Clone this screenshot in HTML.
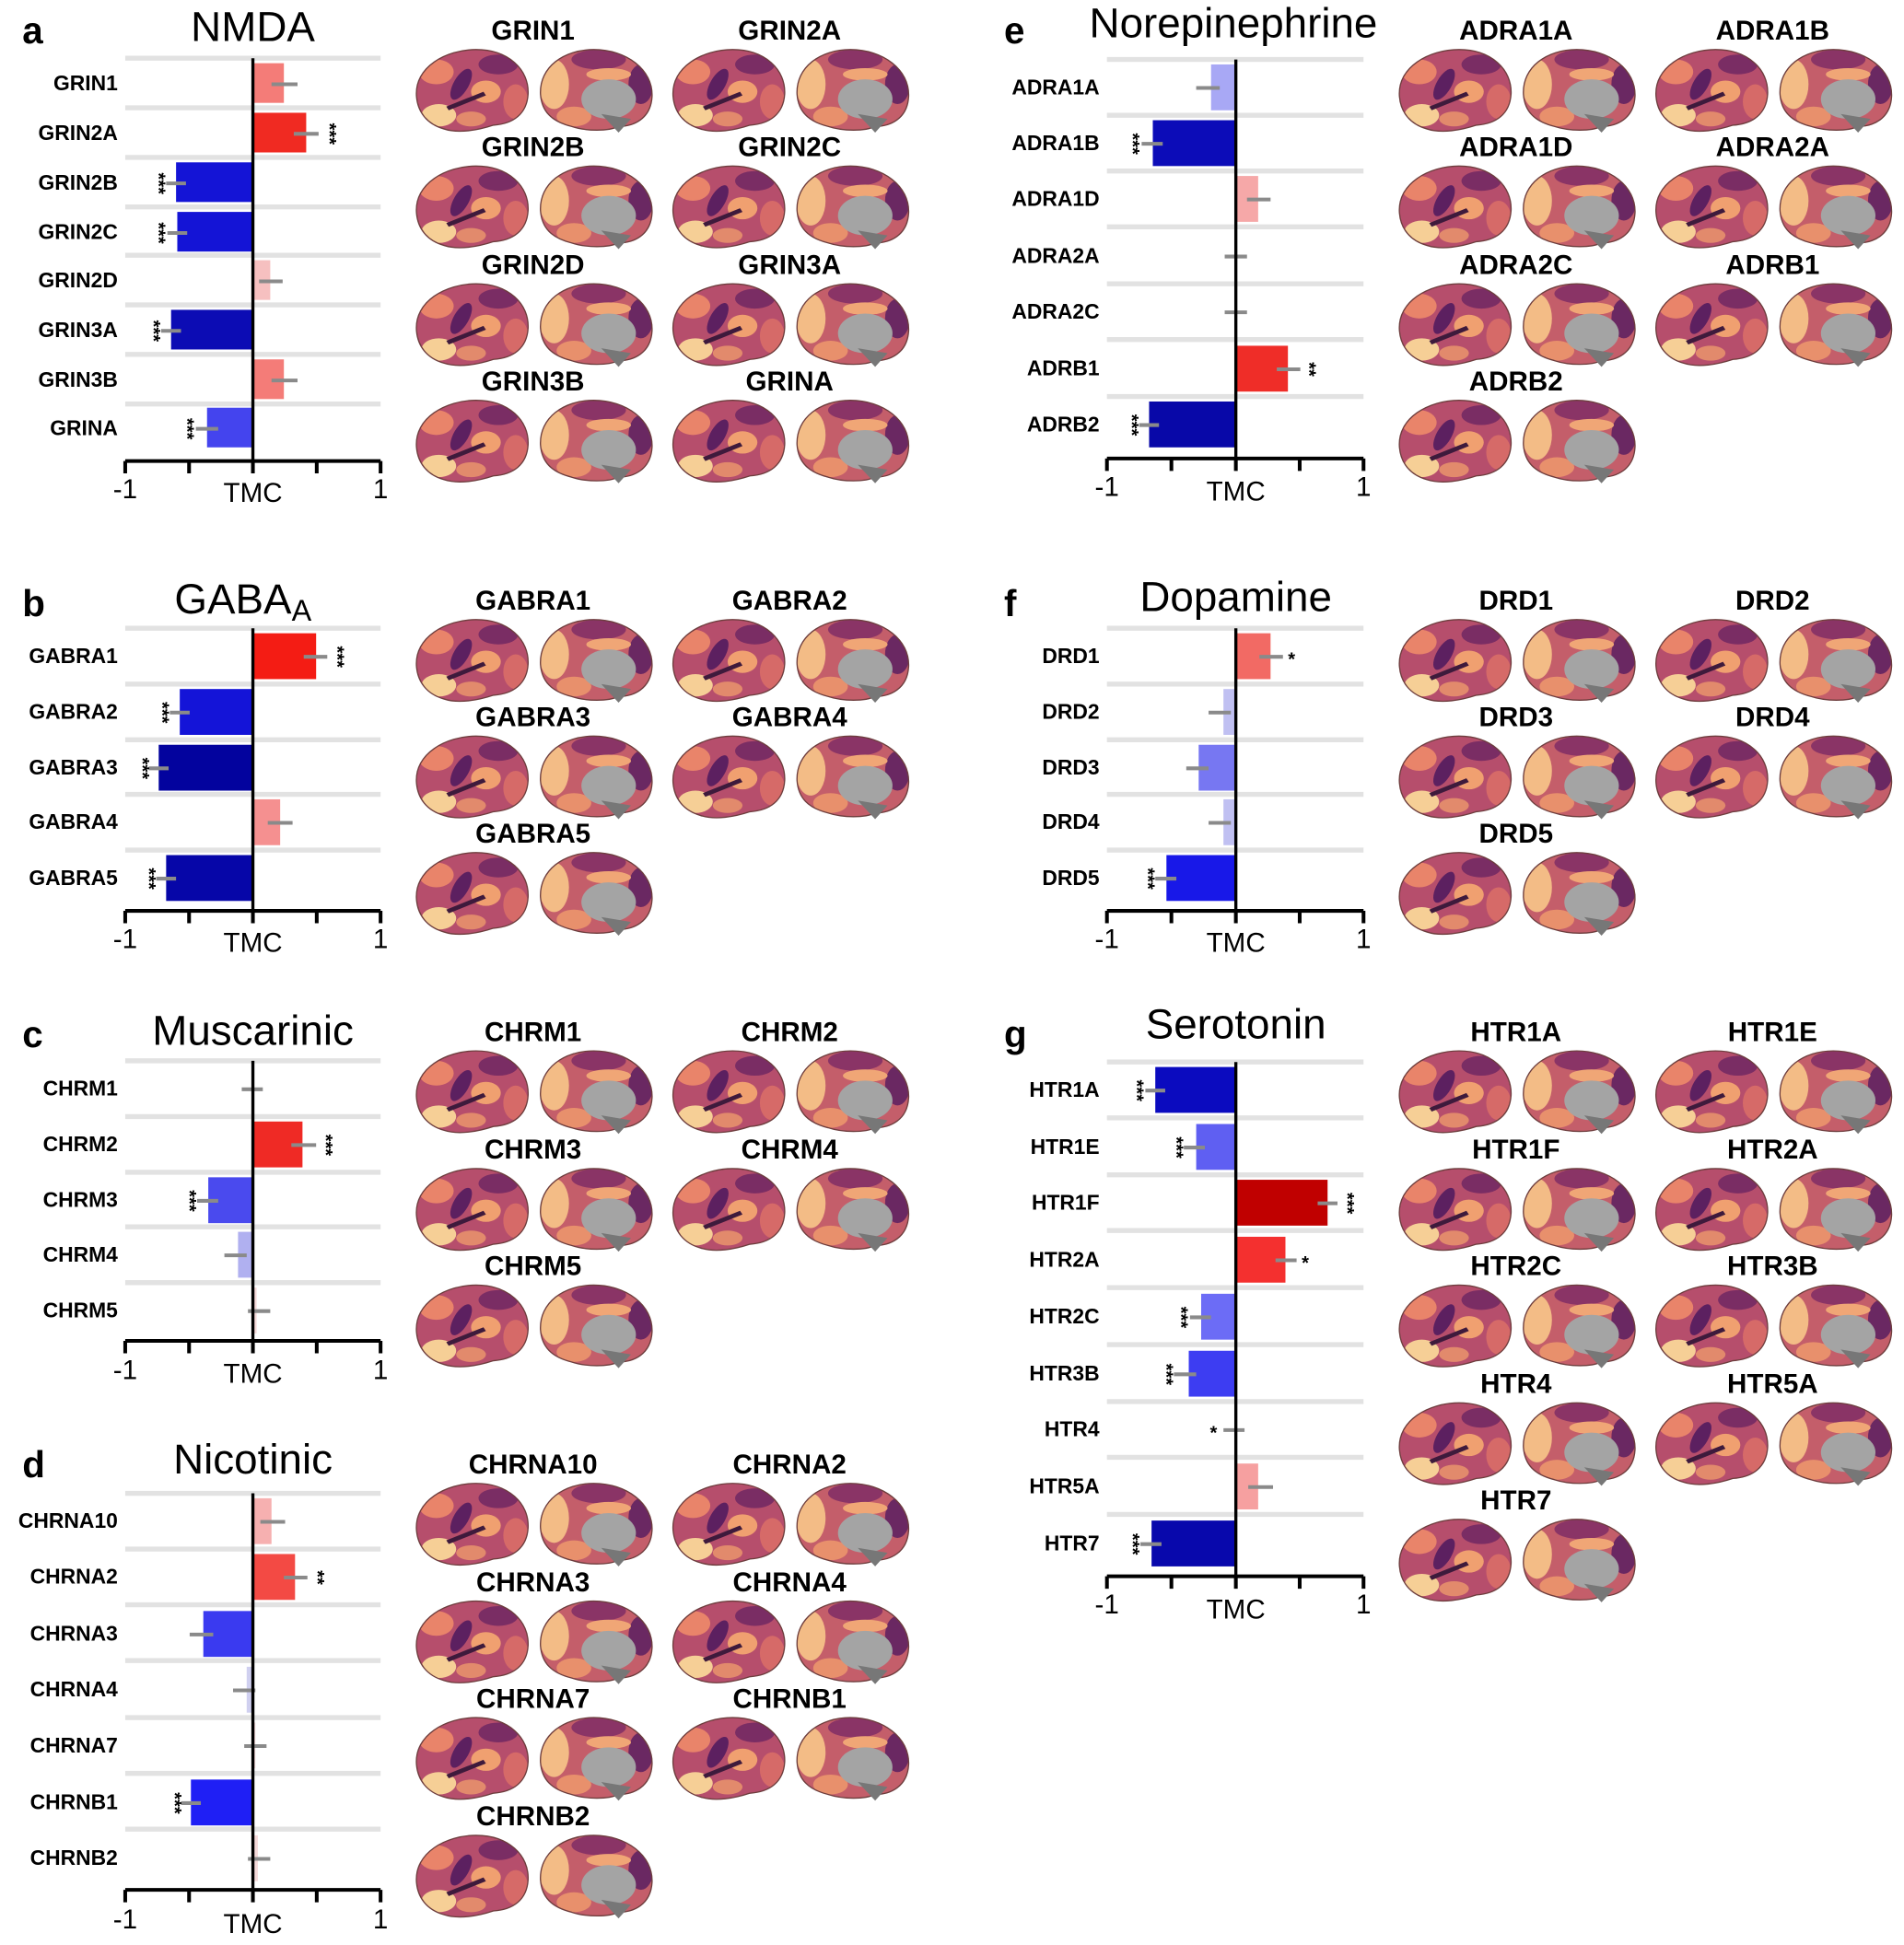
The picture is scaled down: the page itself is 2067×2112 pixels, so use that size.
<!DOCTYPE html>
<html><head><meta charset="utf-8"><style>
html,body{margin:0;padding:0;background:#fff}
svg{display:block}
text{font-family:"Liberation Sans",Arial,sans-serif}
.g{font-weight:bold;font-size:17px;text-anchor:end}
.bl{font-weight:bold;font-size:22px;text-anchor:middle}
.t{font-size:34px;text-anchor:middle}
.p{font-weight:bold;font-size:30px}
.ax{font-size:22px;text-anchor:middle}
.st{font-size:15px;text-anchor:middle;font-weight:bold}
.sep{stroke:#e2e2e2;stroke-width:4}
.er{stroke:#8a8a8a;stroke-width:3}
.z{stroke:#000;stroke-width:2.5}
.a{stroke:#000;stroke-width:3;fill:none}
</style></head><body>
<svg width="2067" height="2112" viewBox="0 0 1536 1569.5" xmlns="http://www.w3.org/2000/svg">
<defs>
<clipPath id="cl"><path d="M4,40 C2,16 28,2 52,2 C78,2 95,18 94,38 C93,54 82,62 66,63 C54,67 38,70 26,66 C12,62 5,52 4,40Z"/></clipPath>
<clipPath id="cm"><path d="M3,38 C2,16 22,2 46,2 C72,2 94,18 93,40 C92,58 78,64 66,64 C58,68 40,68 28,64 C12,60 4,52 3,38Z"/></clipPath>
<symbol id="L" viewBox="0 0 96 70">
<g clip-path="url(#cl)">
<rect width="96" height="70" fill="#b64e6c"/>
<ellipse cx="20" cy="20" rx="14" ry="10" fill="#e9846a"/>
<ellipse cx="70" cy="14" rx="16" ry="8" fill="#7a2d64"/>
<ellipse cx="60" cy="36" rx="12" ry="9" fill="#f0a070"/>
<ellipse cx="84" cy="44" rx="10" ry="14" fill="#d66a68"/>
<ellipse cx="22" cy="55" rx="14" ry="9" fill="#f6cf96"/>
<ellipse cx="40" cy="30" rx="6" ry="14" fill="#5c2060" transform="rotate(30 40 30)"/>
<ellipse cx="48" cy="58" rx="12" ry="6" fill="#e28a6c"/>
<path d="M28,48 L58,36 L60,39 L30,51Z" fill="#3e1a3c"/>
</g>
<path d="M4,40 C2,16 28,2 52,2 C78,2 95,18 94,38 C93,54 82,62 66,63 C54,67 38,70 26,66 C12,62 5,52 4,40Z" fill="none" stroke="#6d3d3d" stroke-width="1"/>
</symbol>
<symbol id="M" viewBox="0 0 96 70">
<g clip-path="url(#cm)">
<rect width="96" height="70" fill="#c45e6a"/>
<ellipse cx="14" cy="30" rx="12" ry="20" fill="#f3bc86"/>
<ellipse cx="50" cy="10" rx="22" ry="8" fill="#8a3466"/>
<ellipse cx="84" cy="30" rx="10" ry="16" fill="#6a2862"/>
<ellipse cx="30" cy="56" rx="14" ry="8" fill="#e8906c"/>
<ellipse cx="58" cy="22" rx="18" ry="5" fill="#f0a676"/>
</g>
<path d="M3,38 C2,16 22,2 46,2 C72,2 94,18 93,40 C92,58 78,64 66,64 C58,68 40,68 28,64 C12,60 4,52 3,38Z" fill="none" stroke="#6d3d3d" stroke-width="1"/>
<ellipse cx="58" cy="42" rx="22" ry="16" fill="#a4a4a4"/>
<path d="M52,54 L66,69 L76,58 Z" fill="#777"/>
</symbol>
</defs>

<!-- ===== Panel a ===== -->
<text class="p" x="18" y="35">a</text>
<text class="t" x="204" y="33">NMDA</text>
<g>
<line class="sep" x1="101" x2="307" y1="47" y2="47"/><line class="sep" x1="101" x2="307" y1="87" y2="87"/><line class="sep" x1="101" x2="307" y1="127" y2="127"/><line class="sep" x1="101" x2="307" y1="167" y2="167"/><line class="sep" x1="101" x2="307" y1="206" y2="206"/><line class="sep" x1="101" x2="307" y1="246" y2="246"/><line class="sep" x1="101" x2="307" y1="286" y2="286"/><line class="sep" x1="101" x2="307" y1="326" y2="326"/>
<text class="g" x="95" y="73">GRIN1</text><rect x="204" y="51" width="25" height="32" fill="#f47c78"/><line class="er" x1="219" x2="240" y1="68" y2="68"/>
<text class="g" x="95" y="113">GRIN2A</text><rect x="204" y="91" width="43" height="32" fill="#f02a22"/><line class="er" x1="237" x2="257" y1="108" y2="108"/><text class="st" transform="translate(265,108) rotate(90)" dy="4">***</text>
<text class="g" x="95" y="153">GRIN2B</text><rect x="142" y="131" width="62" height="32" fill="#1414d6"/><line class="er" x1="134" x2="150" y1="148" y2="148"/><text class="st" transform="translate(127,148) rotate(90)" dy="4">***</text>
<text class="g" x="95" y="193">GRIN2C</text><rect x="143" y="171" width="61" height="32" fill="#1414d6"/><line class="er" x1="135" x2="151" y1="188" y2="188"/><text class="st" transform="translate(127,188) rotate(90)" dy="4">***</text>
<text class="g" x="95" y="232">GRIN2D</text><rect x="204" y="210" width="14" height="32" fill="#f6c0c0"/><line class="er" x1="209" x2="228" y1="227" y2="227"/>
<text class="g" x="95" y="272">GRIN3A</text><rect x="138" y="250" width="66" height="32" fill="#0c0cb4"/><line class="er" x1="130" x2="146" y1="267" y2="267"/><text class="st" transform="translate(123,267) rotate(90)" dy="4">***</text>
<text class="g" x="95" y="312">GRIN3B</text><rect x="204" y="290" width="25" height="32" fill="#f47c78"/><line class="er" x1="219" x2="240" y1="307" y2="307"/>
<text class="g" x="95" y="351">GRINA</text><rect x="167" y="329" width="37" height="32" fill="#4444ee"/><line class="er" x1="158" x2="176" y1="346" y2="346"/><text class="st" transform="translate(150,346) rotate(90)" dy="4">***</text>
<line class="z" x1="204" x2="204" y1="47" y2="372"/>
<path class="a" d="M101,372 H307 M101,372 v10 M152.5,372 v10 M204,372 v10 M255.5,372 v10 M307,372 v10"/>
<text class="ax" x="101" y="402">-1</text><text class="ax" x="204" y="405">TMC</text><text class="ax" x="307" y="402">1</text>
</g>
<text class="bl" x="430" y="32">GRIN1</text><text class="bl" x="637" y="32">GRIN2A</text>
<text class="bl" x="430" y="126">GRIN2B</text><text class="bl" x="637" y="126">GRIN2C</text>
<text class="bl" x="430" y="221">GRIN2D</text><text class="bl" x="637" y="221">GRIN3A</text>
<text class="bl" x="430" y="315">GRIN3B</text><text class="bl" x="637" y="315">GRINA</text>
<g>
<use href="#L" x="332" y="38" width="96" height="70"/><use href="#M" x="433" y="38" width="96" height="70"/><use href="#L" x="539" y="38" width="96" height="70"/><use href="#M" x="640" y="38" width="96" height="70"/>
<use href="#L" x="332" y="132" width="96" height="70"/><use href="#M" x="433" y="132" width="96" height="70"/><use href="#L" x="539" y="132" width="96" height="70"/><use href="#M" x="640" y="132" width="96" height="70"/>
<use href="#L" x="332" y="227" width="96" height="70"/><use href="#M" x="433" y="227" width="96" height="70"/><use href="#L" x="539" y="227" width="96" height="70"/><use href="#M" x="640" y="227" width="96" height="70"/>
<use href="#L" x="332" y="321" width="96" height="70"/><use href="#M" x="433" y="321" width="96" height="70"/><use href="#L" x="539" y="321" width="96" height="70"/><use href="#M" x="640" y="321" width="96" height="70"/>
</g>

<!-- ===== Panel b ===== -->
<text class="p" x="18" y="497">b</text>
<text class="t" x="196" y="495">GABA<tspan font-size="24" dy="6">A</tspan></text>
<g>
<line class="sep" x1="101" x2="307" y1="507" y2="507"/><line class="sep" x1="101" x2="307" y1="552" y2="552"/><line class="sep" x1="101" x2="307" y1="597" y2="597"/><line class="sep" x1="101" x2="307" y1="641" y2="641"/><line class="sep" x1="101" x2="307" y1="686" y2="686"/>
<text class="g" x="95" y="535">GABRA1</text><rect x="204" y="511" width="51" height="37" fill="#f41c14"/><line class="er" x1="245" x2="264" y1="530" y2="530"/><text class="st" transform="translate(271,530) rotate(90)" dy="4">***</text>
<text class="g" x="95" y="580">GABRA2</text><rect x="145" y="556" width="59" height="37" fill="#1414d8"/><line class="er" x1="137" x2="153" y1="575" y2="575"/><text class="st" transform="translate(130,575) rotate(90)" dy="4">***</text>
<text class="g" x="95" y="625">GABRA3</text><rect x="128" y="601" width="76" height="37" fill="#03039e"/><line class="er" x1="120" x2="136" y1="620" y2="620"/><text class="st" transform="translate(114,620) rotate(90)" dy="4">***</text>
<text class="g" x="95" y="669">GABRA4</text><rect x="204" y="645" width="22" height="37" fill="#f59090"/><line class="er" x1="216" x2="236" y1="664" y2="664"/>
<text class="g" x="95" y="714">GABRA5</text><rect x="134" y="690" width="70" height="37" fill="#0606a8"/><line class="er" x1="126" x2="142" y1="709" y2="709"/><text class="st" transform="translate(119,709) rotate(90)" dy="4">***</text>
<line class="z" x1="204" x2="204" y1="507" y2="735"/>
<path class="a" d="M101,735 H307 M101,735 v10 M152.5,735 v10 M204,735 v10 M255.5,735 v10 M307,735 v10"/>
<text class="ax" x="101" y="765">-1</text><text class="ax" x="204" y="768">TMC</text><text class="ax" x="307" y="765">1</text>
</g>
<text class="bl" x="430" y="492">GABRA1</text><text class="bl" x="637" y="492">GABRA2</text>
<text class="bl" x="430" y="586">GABRA3</text><text class="bl" x="637" y="586">GABRA4</text>
<text class="bl" x="430" y="680">GABRA5</text>
<g>
<use href="#L" x="332" y="498" width="96" height="70"/><use href="#M" x="433" y="498" width="96" height="70"/><use href="#L" x="539" y="498" width="96" height="70"/><use href="#M" x="640" y="498" width="96" height="70"/>
<use href="#L" x="332" y="592" width="96" height="70"/><use href="#M" x="433" y="592" width="96" height="70"/><use href="#L" x="539" y="592" width="96" height="70"/><use href="#M" x="640" y="592" width="96" height="70"/>
<use href="#L" x="332" y="686" width="96" height="70"/><use href="#M" x="433" y="686" width="96" height="70"/>
</g>

<!-- ===== Panel c ===== -->
<text class="p" x="18" y="845">c</text>
<text class="t" x="204" y="843">Muscarinic</text>
<g>
<line class="sep" x1="101" x2="307" y1="856" y2="856"/><line class="sep" x1="101" x2="307" y1="901" y2="901"/><line class="sep" x1="101" x2="307" y1="946" y2="946"/><line class="sep" x1="101" x2="307" y1="990" y2="990"/><line class="sep" x1="101" x2="307" y1="1035" y2="1035"/>
<text class="g" x="95" y="884">CHRM1</text><line class="er" x1="195" x2="212" y1="879" y2="879"/>
<text class="g" x="95" y="929">CHRM2</text><rect x="204" y="905" width="40" height="37" fill="#ef2a25"/><line class="er" x1="235" x2="255" y1="924" y2="924"/><text class="st" transform="translate(262,924) rotate(90)" dy="4">***</text>
<text class="g" x="95" y="974">CHRM3</text><rect x="168" y="950" width="36" height="37" fill="#4a4aee"/><line class="er" x1="159" x2="176" y1="969" y2="969"/><text class="st" transform="translate(152,969) rotate(90)" dy="4">***</text>
<text class="g" x="95" y="1018">CHRM4</text><rect x="192" y="994" width="12" height="37" fill="#b0b0f0"/><line class="er" x1="181" x2="199" y1="1013" y2="1013"/>
<text class="g" x="95" y="1063">CHRM5</text><rect x="204" y="1039" width="3" height="37" fill="#f5dada"/><line class="er" x1="200" x2="218" y1="1058" y2="1058"/>
<line class="z" x1="204" x2="204" y1="856" y2="1082"/>
<path class="a" d="M101,1082 H307 M101,1082 v10 M152.5,1082 v10 M204,1082 v10 M255.5,1082 v10 M307,1082 v10"/>
<text class="ax" x="101" y="1113">-1</text><text class="ax" x="204" y="1116">TMC</text><text class="ax" x="307" y="1113">1</text>
</g>
<text class="bl" x="430" y="840">CHRM1</text><text class="bl" x="637" y="840">CHRM2</text>
<text class="bl" x="430" y="935">CHRM3</text><text class="bl" x="637" y="935">CHRM4</text>
<text class="bl" x="430" y="1029">CHRM5</text>
<g>
<use href="#L" x="332" y="846" width="96" height="70"/><use href="#M" x="433" y="846" width="96" height="70"/><use href="#L" x="539" y="846" width="96" height="70"/><use href="#M" x="640" y="846" width="96" height="70"/>
<use href="#L" x="332" y="941" width="96" height="70"/><use href="#M" x="433" y="941" width="96" height="70"/><use href="#L" x="539" y="941" width="96" height="70"/><use href="#M" x="640" y="941" width="96" height="70"/>
<use href="#L" x="332" y="1035" width="96" height="70"/><use href="#M" x="433" y="1035" width="96" height="70"/>
</g>

<!-- ===== Panel d ===== -->
<text class="p" x="18" y="1192">d</text>
<text class="t" x="204" y="1189">Nicotinic</text>
<g>
<line class="sep" x1="101" x2="307" y1="1205" y2="1205"/><line class="sep" x1="101" x2="307" y1="1250" y2="1250"/><line class="sep" x1="101" x2="307" y1="1295" y2="1295"/><line class="sep" x1="101" x2="307" y1="1340" y2="1340"/><line class="sep" x1="101" x2="307" y1="1386" y2="1386"/><line class="sep" x1="101" x2="307" y1="1431" y2="1431"/><line class="sep" x1="101" x2="307" y1="1476" y2="1476"/>
<text class="g" x="95" y="1233">CHRNA10</text><rect x="204" y="1209" width="15" height="37" fill="#f6b0b0"/><line class="er" x1="210" x2="230" y1="1228" y2="1228"/>
<text class="g" x="95" y="1278">CHRNA2</text><rect x="204" y="1254" width="34" height="37" fill="#f34a44"/><line class="er" x1="229" x2="248" y1="1273" y2="1273"/><text class="st" transform="translate(255,1273) rotate(90)" dy="4">**</text>
<text class="g" x="95" y="1324">CHRNA3</text><rect x="164" y="1300" width="40" height="37" fill="#3a3af0"/><line class="er" x1="153" x2="172" y1="1319" y2="1319"/>
<text class="g" x="95" y="1369">CHRNA4</text><rect x="199" y="1345" width="5" height="37" fill="#d0d0f0"/><line class="er" x1="188" x2="206" y1="1364" y2="1364"/>
<text class="g" x="95" y="1414">CHRNA7</text><rect x="204" y="1390" width="2" height="37" fill="#f5dada"/><line class="er" x1="197" x2="215" y1="1409" y2="1409"/>
<text class="g" x="95" y="1460">CHRNB1</text><rect x="154" y="1436" width="50" height="37" fill="#1f1ff5"/><line class="er" x1="146" x2="162" y1="1455" y2="1455"/><text class="st" transform="translate(140,1455) rotate(90)" dy="4">***</text>
<text class="g" x="95" y="1505">CHRNB2</text><rect x="204" y="1481" width="4" height="37" fill="#f5dada"/><line class="er" x1="200" x2="218" y1="1500" y2="1500"/>
<line class="z" x1="204" x2="204" y1="1205" y2="1525"/>
<path class="a" d="M101,1525 H307 M101,1525 v10 M152.5,1525 v10 M204,1525 v10 M255.5,1525 v10 M307,1525 v10"/>
<text class="ax" x="101" y="1556">-1</text><text class="ax" x="204" y="1560">TMC</text><text class="ax" x="307" y="1556">1</text>
</g>
<text class="bl" x="430" y="1189">CHRNA10</text><text class="bl" x="637" y="1189">CHRNA2</text>
<text class="bl" x="430" y="1284">CHRNA3</text><text class="bl" x="637" y="1284">CHRNA4</text>
<text class="bl" x="430" y="1378">CHRNA7</text><text class="bl" x="637" y="1378">CHRNB1</text>
<text class="bl" x="430" y="1473">CHRNB2</text>
<g>
<use href="#L" x="332" y="1195" width="96" height="70"/><use href="#M" x="433" y="1195" width="96" height="70"/><use href="#L" x="539" y="1195" width="96" height="70"/><use href="#M" x="640" y="1195" width="96" height="70"/>
<use href="#L" x="332" y="1290" width="96" height="70"/><use href="#M" x="433" y="1290" width="96" height="70"/><use href="#L" x="539" y="1290" width="96" height="70"/><use href="#M" x="640" y="1290" width="96" height="70"/>
<use href="#L" x="332" y="1384" width="96" height="70"/><use href="#M" x="433" y="1384" width="96" height="70"/><use href="#L" x="539" y="1384" width="96" height="70"/><use href="#M" x="640" y="1384" width="96" height="70"/>
<use href="#L" x="332" y="1479" width="96" height="70"/><use href="#M" x="433" y="1479" width="96" height="70"/>
</g>

<!-- ===== Panel e ===== -->
<text class="p" x="810" y="35">e</text>
<text class="t" x="995" y="30">Norepinephrine</text>
<g>
<line class="sep" x1="893" x2="1100" y1="48" y2="48"/><line class="sep" x1="893" x2="1100" y1="93" y2="93"/><line class="sep" x1="893" x2="1100" y1="138" y2="138"/><line class="sep" x1="893" x2="1100" y1="183" y2="183"/><line class="sep" x1="893" x2="1100" y1="229" y2="229"/><line class="sep" x1="893" x2="1100" y1="274" y2="274"/><line class="sep" x1="893" x2="1100" y1="320" y2="320"/>
<text class="g" x="887" y="76">ADRA1A</text><rect x="977" y="52" width="20" height="37" fill="#a8a8f5"/><line class="er" x1="965" x2="984" y1="71" y2="71"/>
<text class="g" x="887" y="121">ADRA1B</text><rect x="930" y="97" width="67" height="37" fill="#0c0cb8"/><line class="er" x1="921" x2="938" y1="116" y2="116"/><text class="st" transform="translate(913,116) rotate(90)" dy="4">***</text>
<text class="g" x="887" y="166">ADRA1D</text><rect x="997" y="142" width="18" height="37" fill="#f6a8a8"/><line class="er" x1="1006" x2="1025" y1="161" y2="161"/>
<text class="g" x="887" y="212">ADRA2A</text><line class="er" x1="988" x2="1006" y1="207" y2="207"/>
<text class="g" x="887" y="257">ADRA2C</text><line class="er" x1="988" x2="1006" y1="252" y2="252"/>
<text class="g" x="887" y="303">ADRB1</text><rect x="997" y="279" width="42" height="37" fill="#ef2d28"/><line class="er" x1="1030" x2="1049" y1="298" y2="298"/><text class="st" transform="translate(1055,298) rotate(90)" dy="4">**</text>
<text class="g" x="887" y="348">ADRB2</text><rect x="927" y="324" width="70" height="37" fill="#0808a8"/><line class="er" x1="919" x2="935" y1="343" y2="343"/><text class="st" transform="translate(912,343) rotate(90)" dy="4">***</text>
<line class="z" x1="997" x2="997" y1="48" y2="370"/>
<path class="a" d="M893,370 H1100 M893,370 v10 M945,370 v10 M997,370 v10 M1048.5,370 v10 M1100,370 v10"/>
<text class="ax" x="893" y="400">-1</text><text class="ax" x="997" y="404">TMC</text><text class="ax" x="1100" y="400">1</text>
</g>
<text class="bl" x="1223" y="32">ADRA1A</text><text class="bl" x="1430" y="32">ADRA1B</text>
<text class="bl" x="1223" y="126">ADRA1D</text><text class="bl" x="1430" y="126">ADRA2A</text>
<text class="bl" x="1223" y="221">ADRA2C</text><text class="bl" x="1430" y="221">ADRB1</text>
<text class="bl" x="1223" y="315">ADRB2</text>
<g>
<use href="#L" x="1125" y="38" width="96" height="70"/><use href="#M" x="1226" y="38" width="96" height="70"/><use href="#L" x="1332" y="38" width="96" height="70"/><use href="#M" x="1433" y="38" width="96" height="70"/>
<use href="#L" x="1125" y="132" width="96" height="70"/><use href="#M" x="1226" y="132" width="96" height="70"/><use href="#L" x="1332" y="132" width="96" height="70"/><use href="#M" x="1433" y="132" width="96" height="70"/>
<use href="#L" x="1125" y="227" width="96" height="70"/><use href="#M" x="1226" y="227" width="96" height="70"/><use href="#L" x="1332" y="227" width="96" height="70"/><use href="#M" x="1433" y="227" width="96" height="70"/>
<use href="#L" x="1125" y="321" width="96" height="70"/><use href="#M" x="1226" y="321" width="96" height="70"/>
</g>

<!-- ===== Panel f ===== -->
<text class="p" x="810" y="497">f</text>
<text class="t" x="997" y="493">Dopamine</text>
<g>
<line class="sep" x1="893" x2="1100" y1="507" y2="507"/><line class="sep" x1="893" x2="1100" y1="552" y2="552"/><line class="sep" x1="893" x2="1100" y1="597" y2="597"/><line class="sep" x1="893" x2="1100" y1="641" y2="641"/><line class="sep" x1="893" x2="1100" y1="686" y2="686"/>
<text class="g" x="887" y="535">DRD1</text><rect x="997" y="511" width="28" height="37" fill="#f26a64"/><line class="er" x1="1016" x2="1035" y1="530" y2="530"/><text class="st" x="1042" y="537">*</text>
<text class="g" x="887" y="580">DRD2</text><rect x="987" y="556" width="10" height="37" fill="#c0c0f2"/><line class="er" x1="975" x2="993" y1="575" y2="575"/>
<text class="g" x="887" y="625">DRD3</text><rect x="967" y="601" width="30" height="37" fill="#7777f2"/><line class="er" x1="957" x2="975" y1="620" y2="620"/>
<text class="g" x="887" y="669">DRD4</text><rect x="987" y="645" width="10" height="37" fill="#c0c0f2"/><line class="er" x1="975" x2="993" y1="664" y2="664"/>
<text class="g" x="887" y="714">DRD5</text><rect x="941" y="690" width="56" height="37" fill="#1818e8"/><line class="er" x1="932" x2="949" y1="709" y2="709"/><text class="st" transform="translate(925,709) rotate(90)" dy="4">***</text>
<line class="z" x1="997" x2="997" y1="507" y2="735"/>
<path class="a" d="M893,735 H1100 M893,735 v10 M945,735 v10 M997,735 v10 M1048.5,735 v10 M1100,735 v10"/>
<text class="ax" x="893" y="765">-1</text><text class="ax" x="997" y="768">TMC</text><text class="ax" x="1100" y="765">1</text>
</g>
<text class="bl" x="1223" y="492">DRD1</text><text class="bl" x="1430" y="492">DRD2</text>
<text class="bl" x="1223" y="586">DRD3</text><text class="bl" x="1430" y="586">DRD4</text>
<text class="bl" x="1223" y="680">DRD5</text>
<g>
<use href="#L" x="1125" y="498" width="96" height="70"/><use href="#M" x="1226" y="498" width="96" height="70"/><use href="#L" x="1332" y="498" width="96" height="70"/><use href="#M" x="1433" y="498" width="96" height="70"/>
<use href="#L" x="1125" y="592" width="96" height="70"/><use href="#M" x="1226" y="592" width="96" height="70"/><use href="#L" x="1332" y="592" width="96" height="70"/><use href="#M" x="1433" y="592" width="96" height="70"/>
<use href="#L" x="1125" y="686" width="96" height="70"/><use href="#M" x="1226" y="686" width="96" height="70"/>
</g>

<!-- ===== Panel g ===== -->
<text class="p" x="810" y="845">g</text>
<text class="t" x="997" y="838">Serotonin</text>
<g>
<line class="sep" x1="893" x2="1100" y1="857" y2="857"/><line class="sep" x1="893" x2="1100" y1="902" y2="902"/><line class="sep" x1="893" x2="1100" y1="948" y2="948"/><line class="sep" x1="893" x2="1100" y1="993" y2="993"/><line class="sep" x1="893" x2="1100" y1="1039" y2="1039"/><line class="sep" x1="893" x2="1100" y1="1085" y2="1085"/><line class="sep" x1="893" x2="1100" y1="1131" y2="1131"/><line class="sep" x1="893" x2="1100" y1="1176" y2="1176"/><line class="sep" x1="893" x2="1100" y1="1222" y2="1222"/>
<text class="g" x="887" y="885">HTR1A</text><rect x="932" y="861" width="65" height="37" fill="#0b0bbf"/><line class="er" x1="924" x2="940" y1="880" y2="880"/><text class="st" transform="translate(916,880) rotate(90)" dy="4">***</text>
<text class="g" x="887" y="931">HTR1E</text><rect x="965" y="907" width="32" height="37" fill="#5f5ff2"/><line class="er" x1="955" x2="972" y1="926" y2="926"/><text class="st" transform="translate(948,926) rotate(90)" dy="4">***</text>
<text class="g" x="887" y="976">HTR1F</text><rect x="997" y="952" width="74" height="37" fill="#c00000"/><line class="er" x1="1063" x2="1079" y1="971" y2="971"/><text class="st" transform="translate(1086,971) rotate(90)" dy="4">***</text>
<text class="g" x="887" y="1022">HTR2A</text><rect x="997" y="998" width="40" height="37" fill="#f4302f"/><line class="er" x1="1029" x2="1046" y1="1017" y2="1017"/><text class="st" x="1053" y="1024">*</text>
<text class="g" x="887" y="1068">HTR2C</text><rect x="969" y="1044" width="28" height="37" fill="#6c6cf6"/><line class="er" x1="960" x2="977" y1="1063" y2="1063"/><text class="st" transform="translate(952,1063) rotate(90)" dy="4">***</text>
<text class="g" x="887" y="1114">HTR3B</text><rect x="959" y="1090" width="38" height="37" fill="#3d3df2"/><line class="er" x1="947" x2="965" y1="1109" y2="1109"/><text class="st" transform="translate(940,1109) rotate(90)" dy="4">***</text>
<text class="g" x="887" y="1159">HTR4</text><line class="er" x1="987" x2="1004" y1="1154" y2="1154"/><text class="st" x="979" y="1161">*</text>
<text class="g" x="887" y="1205">HTR5A</text><rect x="997" y="1181" width="18" height="37" fill="#f6a0a0"/><line class="er" x1="1007" x2="1027" y1="1200" y2="1200"/>
<text class="g" x="887" y="1251">HTR7</text><rect x="929" y="1227" width="68" height="37" fill="#0808ac"/><line class="er" x1="920" x2="937" y1="1246" y2="1246"/><text class="st" transform="translate(913,1246) rotate(90)" dy="4">***</text>
<line class="z" x1="997" x2="997" y1="857" y2="1272"/>
<path class="a" d="M893,1272 H1100 M893,1272 v10 M945,1272 v10 M997,1272 v10 M1048.5,1272 v10 M1100,1272 v10"/>
<text class="ax" x="893" y="1302">-1</text><text class="ax" x="997" y="1306">TMC</text><text class="ax" x="1100" y="1302">1</text>
</g>
<text class="bl" x="1223" y="840">HTR1A</text><text class="bl" x="1430" y="840">HTR1E</text>
<text class="bl" x="1223" y="935">HTR1F</text><text class="bl" x="1430" y="935">HTR2A</text>
<text class="bl" x="1223" y="1029">HTR2C</text><text class="bl" x="1430" y="1029">HTR3B</text>
<text class="bl" x="1223" y="1124">HTR4</text><text class="bl" x="1430" y="1124">HTR5A</text>
<text class="bl" x="1223" y="1218">HTR7</text>
<g>
<use href="#L" x="1125" y="846" width="96" height="70"/><use href="#M" x="1226" y="846" width="96" height="70"/><use href="#L" x="1332" y="846" width="96" height="70"/><use href="#M" x="1433" y="846" width="96" height="70"/>
<use href="#L" x="1125" y="941" width="96" height="70"/><use href="#M" x="1226" y="941" width="96" height="70"/><use href="#L" x="1332" y="941" width="96" height="70"/><use href="#M" x="1433" y="941" width="96" height="70"/>
<use href="#L" x="1125" y="1035" width="96" height="70"/><use href="#M" x="1226" y="1035" width="96" height="70"/><use href="#L" x="1332" y="1035" width="96" height="70"/><use href="#M" x="1433" y="1035" width="96" height="70"/>
<use href="#L" x="1125" y="1130" width="96" height="70"/><use href="#M" x="1226" y="1130" width="96" height="70"/><use href="#L" x="1332" y="1130" width="96" height="70"/><use href="#M" x="1433" y="1130" width="96" height="70"/>
<use href="#L" x="1125" y="1224" width="96" height="70"/><use href="#M" x="1226" y="1224" width="96" height="70"/>
</g>
</svg>
</body></html>
